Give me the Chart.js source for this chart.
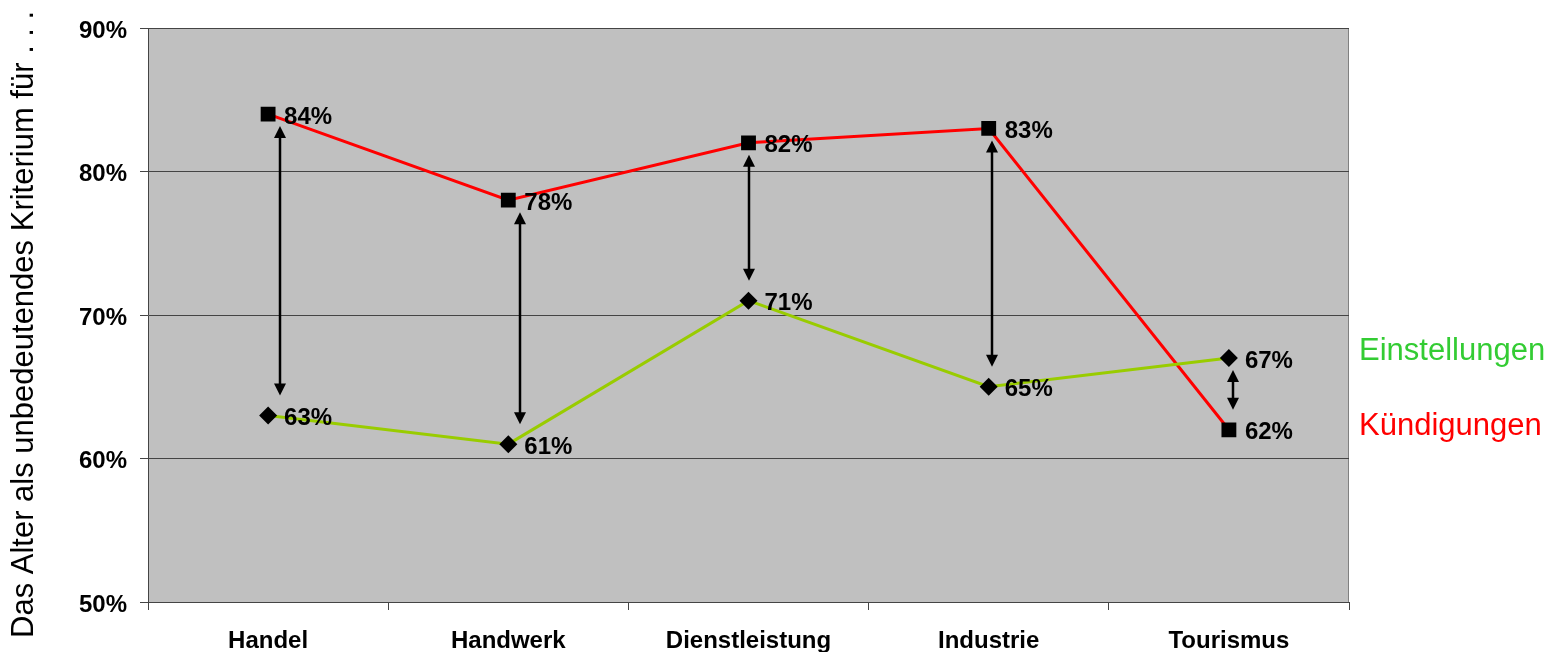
<!DOCTYPE html>
<html>
<head>
<meta charset="utf-8">
<script src="https://cdn.jsdelivr.net/npm/chart.js@4.4.0/dist/chart.umd.min.js"></script>
<style>
  html, body { margin: 0; padding: 0; background: #fff; }
  #wrap { width: 1565px; height: 652px; }
</style>
</head>
<body>
<div id="wrap"><canvas id="chart"></canvas></div>
<script>
// Sectors and shares (%) per series
const sectors = ['Handel', 'Handwerk', 'Dienstleistung', 'Industrie', 'Tourismus'];
const einstellungen = [63, 61, 71, 65, 67];
const kuendigungen = [84, 78, 82, 83, 62];
const yTicks = [50, 60, 70, 80, 90];
const yTitle = 'Das Alter als unbedeutendes Kriterium für . . .';

const FONT = '"Liberation Sans", Arial, sans-serif';

// grey plot area + right border
const plotBg = {
  id: 'plotBg',
  beforeDraw(chart) {
    const { ctx, chartArea: a } = chart;
    ctx.save();
    ctx.fillStyle = '#c0c0c0';
    ctx.fillRect(a.left, a.top, a.right - a.left, a.bottom - a.top);
    ctx.strokeStyle = '#808080';
    ctx.lineWidth = 1;
    ctx.beginPath();
    ctx.moveTo(a.right - 0.5, a.top);
    ctx.lineTo(a.right - 0.5, a.bottom);
    ctx.stroke();
    ctx.restore();
  }
};

// double-headed arrows between the two values of each sector
const gapArrows = {
  id: 'gapArrows',
  afterDatasetsDraw(chart, args, opts) {
    const { ctx, scales: { x, y } } = chart;
    ctx.save();
    ctx.strokeStyle = '#000';
    ctx.fillStyle = '#000';
    ctx.lineWidth = 2.5;
    sectors.forEach((s, i) => {
      const hi = Math.max(einstellungen[i], kuendigungen[i]);
      const lo = Math.min(einstellungen[i], kuendigungen[i]);
      const px = Math.round(x.getPixelForValue(i) + opts.dx[i]);
      const y1 = y.getPixelForValue(hi) + opts.gapTop;
      const y2 = y.getPixelForValue(lo) - opts.gapBottom;
      const h = 12, w = 6;
      ctx.beginPath();
      ctx.moveTo(px, y1 + h - 2);
      ctx.lineTo(px, y2 - h + 2);
      ctx.stroke();
      ctx.beginPath();
      ctx.moveTo(px, y1);
      ctx.lineTo(px - w, y1 + h);
      ctx.lineTo(px + w, y1 + h);
      ctx.closePath();
      ctx.fill();
      ctx.beginPath();
      ctx.moveTo(px, y2);
      ctx.lineTo(px - w, y2 - h);
      ctx.lineTo(px + w, y2 - h);
      ctx.closePath();
      ctx.fill();
    });
    ctx.restore();
  }
};

// value labels right of each marker, series names right of the plot, axis title
const labels = {
  id: 'labels',
  afterDatasetsDraw(chart, args, opts) {
    const { ctx, chartArea: a } = chart;
    ctx.save();
    ctx.font = 'bold 24px ' + FONT;
    ctx.fillStyle = '#000';
    ctx.textAlign = 'left';
    ctx.textBaseline = 'middle';
    chart.data.datasets.forEach((ds, di) => {
      chart.getDatasetMeta(di).data.forEach((pt, i) => {
        ctx.fillText(ds.data[i] + '%', pt.x + 16, pt.y + 3);
      });
    });
    ctx.font = '31px ' + FONT;
    chart.data.datasets.forEach((ds, di) => {
      const pts = chart.getDatasetMeta(di).data;
      const last = pts[pts.length - 1];
      ctx.fillStyle = ds.nameColor;
      ctx.fillText(ds.label, a.right + 10, last.y + opts.nameDy[di]);
    });
    // rotated y title, starting near the bottom edge
    ctx.fillStyle = '#000';
    ctx.textBaseline = 'alphabetic';
    ctx.translate(33, 638);
    ctx.rotate(-Math.PI / 2);
    ctx.fillText(yTitle, 0, 0);
    ctx.restore();
  }
};

new Chart(document.getElementById('chart'), {
  type: 'line',
  data: {
    labels: sectors,
    datasets: [
      {
        label: 'Einstellungen',
        data: einstellungen,
        borderColor: '#99cc00',
        borderWidth: 3,
        pointStyle: 'rectRot',
        pointRadius: 9,
        pointBackgroundColor: '#000',
        pointBorderColor: '#000',
        pointBorderWidth: 0,
        tension: 0,
        nameColor: '#33cc33'
      },
      {
        label: 'Kündigungen',
        data: kuendigungen,
        borderColor: '#ff0000',
        borderWidth: 3,
        pointStyle: 'rect',
        pointRadius: 10.5,
        pointBackgroundColor: '#000',
        pointBorderColor: '#000',
        pointBorderWidth: 0,
        tension: 0,
        nameColor: '#ff0000'
      }
    ]
  },
  options: {
    responsive: true,
    maintainAspectRatio: false,
    animation: false,
    layout: { padding: { left: 0, right: 216, top: 28, bottom: 0 } },
    plugins: {
      legend: { display: false },
      tooltip: { enabled: false },
      gapArrows: { dx: [12, 12, 0, 3, 4], gapTop: 12, gapBottom: 20 },
      labels: { nameDy: [-7, -3] }
    },
    scales: {
      x: {
        offset: true,
        afterFit(scale) { scale.height = 50; },
        grid: {
          offset: true,
          drawOnChartArea: false,
          drawTicks: true,
          tickLength: 8,
          color: '#444'
        },
        border: { color: '#444', width: 1 },
        ticks: {
          font: { family: FONT, size: 24, weight: 'bold' },
          color: '#000',
          padding: 17,
          maxRotation: 0
        }
      },
      y: {
        min: 50,
        max: 90,
        afterFit(scale) { scale.width = 148; },
        afterBuildTicks(scale) { scale.ticks = yTicks.map(v => ({ value: v })); },
        grid: { color: '#444', tickLength: 8 },
        border: { color: '#444', width: 1 },
        ticks: {
          font: { family: FONT, size: 24, weight: 'bold' },
          color: '#000',
          padding: 13,
          labelOffset: 3,
          callback: v => v + '%'
        }
      }
    }
  },
  plugins: [plotBg, gapArrows, labels]
});
</script>
</body>
</html>
